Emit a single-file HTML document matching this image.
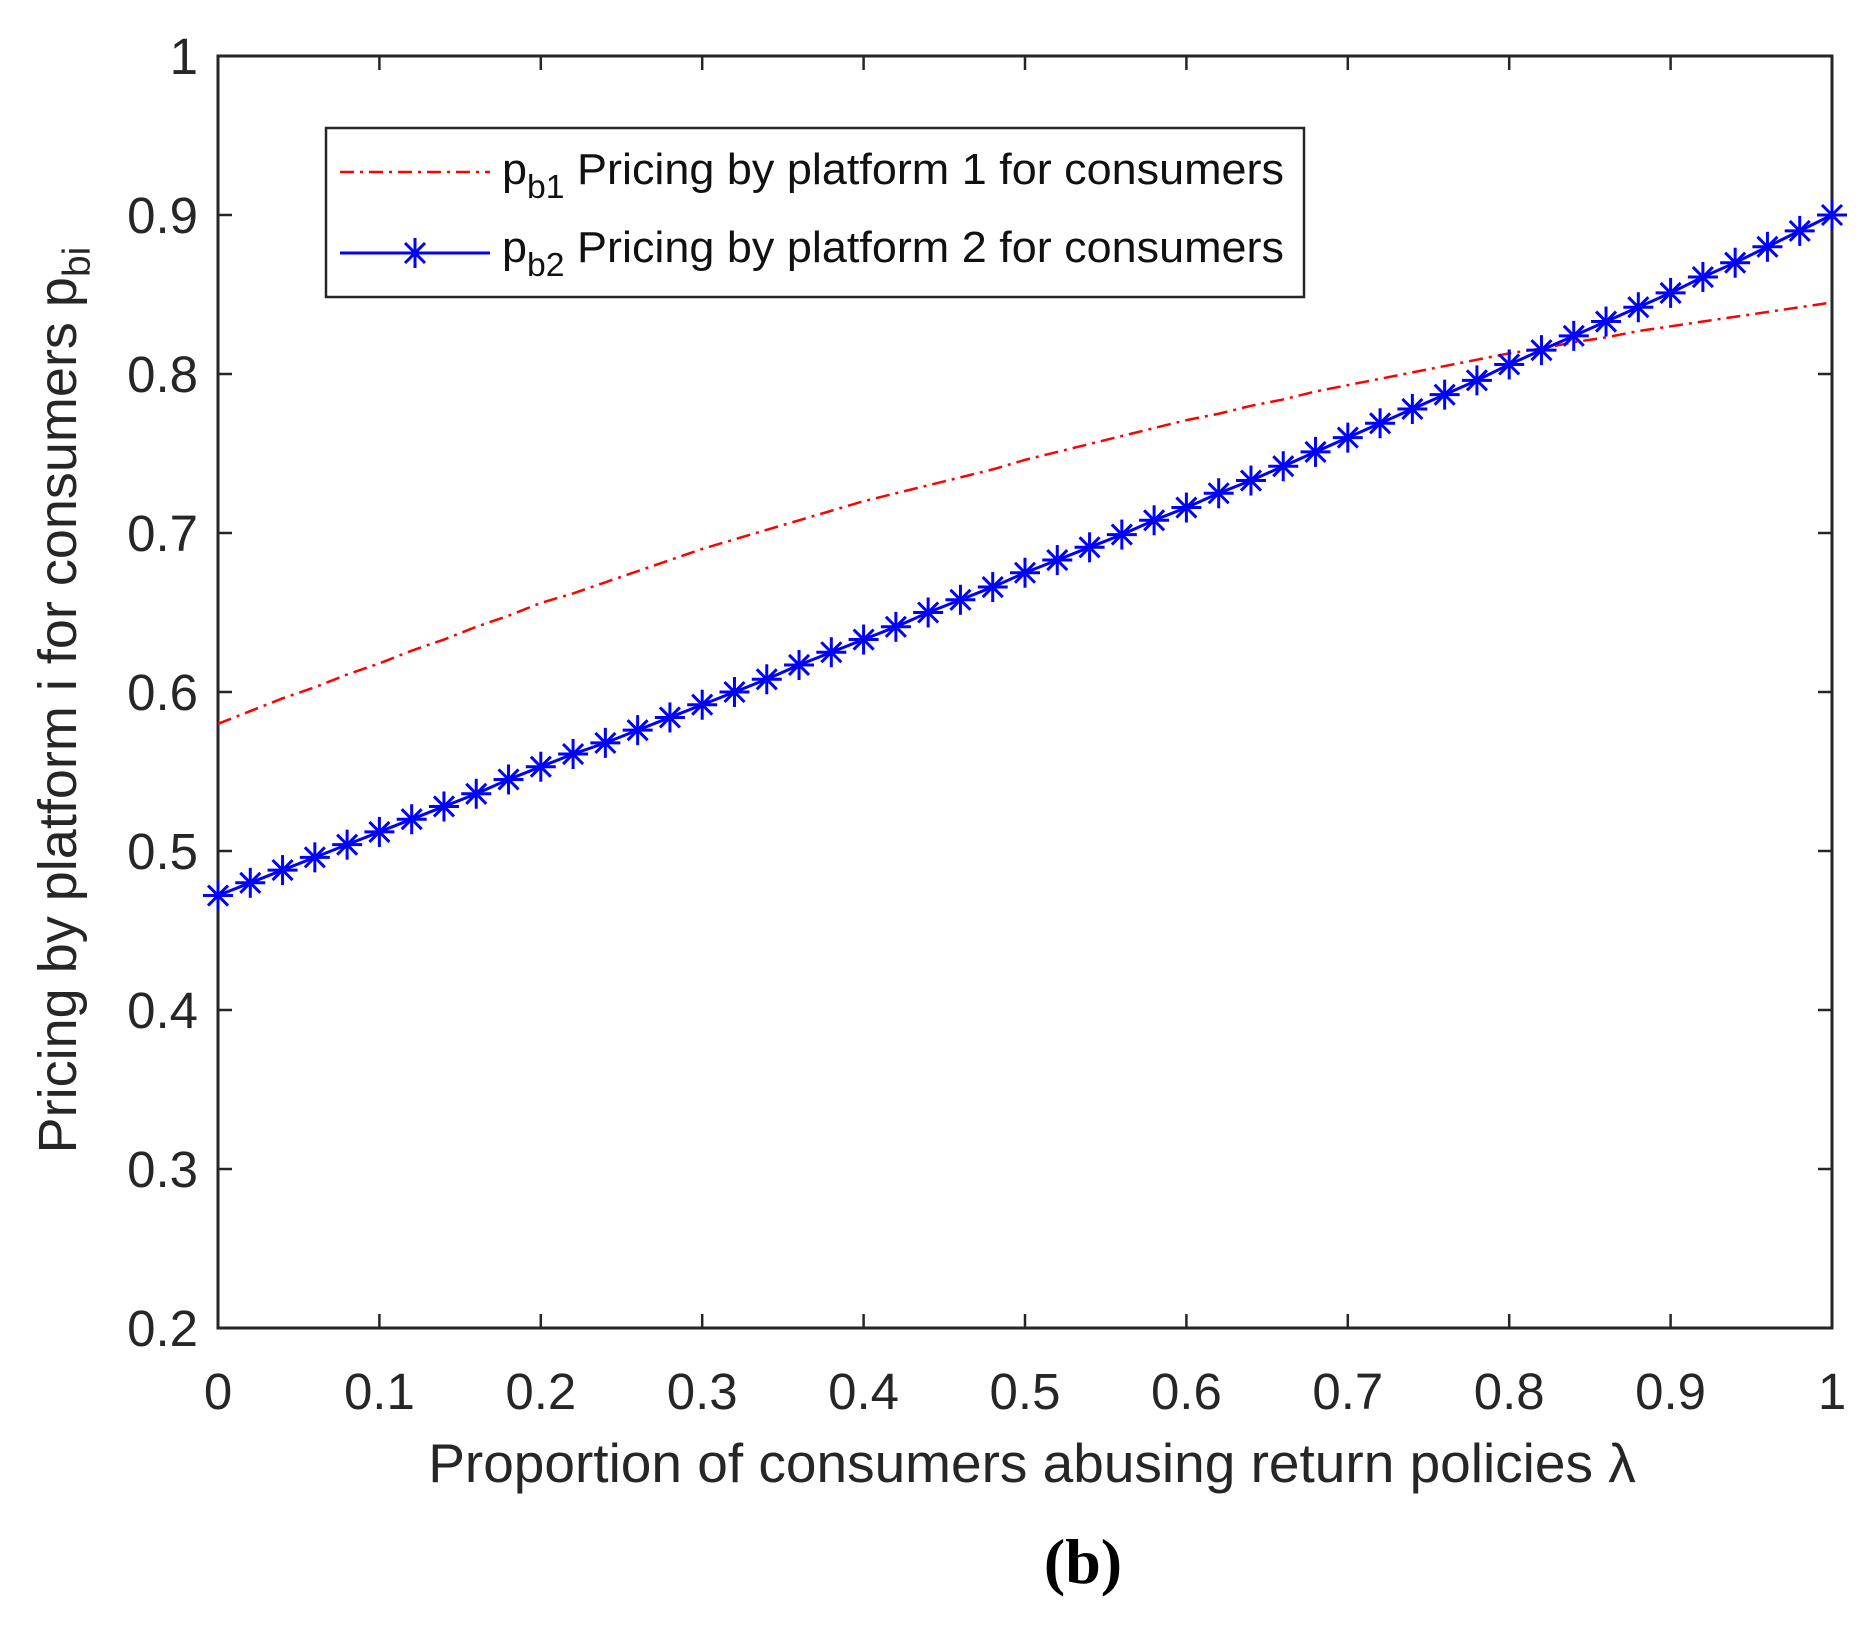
<!DOCTYPE html>
<html><head><meta charset="utf-8"><style>
html,body{margin:0;padding:0;background:#fff;}
svg{display:block;font-family:"Liberation Sans",sans-serif;}
</style></head><body>
<svg id="chart" width="1873" height="1630" viewBox="0 0 1873 1630"></svg>
<script>
const xValues = [0,0.02,0.04,0.06,0.08,0.1,0.12,0.14,0.16,0.18,0.2,0.22,0.24,0.26,0.28,0.3,0.32,0.34,0.36,0.38,0.4,0.42,0.44,0.46,0.48,0.5,0.52,0.54,0.56,0.58,0.6,0.62,0.64,0.66,0.68,0.7,0.72,0.74,0.76,0.78,0.8,0.82,0.84,0.86,0.88,0.9,0.92,0.94,0.96,0.98,1];
const pb1 = [0.580,0.588,0.596,0.603,0.611,0.618,0.626,0.633,0.641,0.648,0.656,0.662,0.669,0.676,0.683,0.690,0.696,0.702,0.708,0.714,0.720,0.725,0.730,0.735,0.740,0.746,0.751,0.756,0.761,0.766,0.771,0.775,0.780,0.784,0.789,0.793,0.797,0.801,0.805,0.809,0.813,0.816,0.820,0.823,0.827,0.830,0.833,0.836,0.839,0.842,0.845];
const pb2 = [0.472,0.480,0.488,0.496,0.504,0.512,0.520,0.528,0.536,0.545,0.553,0.561,0.568,0.576,0.584,0.592,0.600,0.608,0.617,0.625,0.633,0.641,0.650,0.658,0.666,0.675,0.683,0.691,0.699,0.708,0.716,0.725,0.733,0.742,0.751,0.760,0.769,0.778,0.787,0.796,0.806,0.815,0.824,0.833,0.842,0.851,0.861,0.870,0.880,0.890,0.900];
const xTicks = [0,0.1,0.2,0.3,0.4,0.5,0.6,0.7,0.8,0.9,1];
const xTickLabels = ["0","0.1","0.2","0.3","0.4","0.5","0.6","0.7","0.8","0.9","1"];
const yTicks = [0.2,0.3,0.4,0.5,0.6,0.7,0.8,0.9,1];
const yTickLabels = ["0.2","0.3","0.4","0.5","0.6","0.7","0.8","0.9","1"];

const L=218,R=1832,T=56,B=1328;
const X=v=>L+(v-0)/(1-0)*(R-L);
const Y=v=>B-(v-0.2)/(1-0.2)*(B-T);
const svg=document.getElementById('chart');
const NS='http://www.w3.org/2000/svg';
function mk(tag,attrs,parent){const e=document.createElementNS(NS,tag);for(const k in attrs)e.setAttribute(k,attrs[k]);(parent||svg).appendChild(e);return e;}

const box=mk('rect',{x:L,y:T,width:R-L,height:B-T,fill:'none',stroke:'#262626','stroke-width':3});



xTicks.forEach((v,i)=>{
  const t1=mk('line',{x1:X(v),x2:X(v),y1:B,y2:B-14,stroke:'#262626','stroke-width':2.5});
  
  
  const t2=mk('line',{x1:X(v),x2:X(v),y1:T,y2:T+14,stroke:'#262626','stroke-width':2.5});
  
  
  const tx=mk('text',{x:X(v),y:1409,'text-anchor':'middle','font-size':51,fill:'#262626'});
  tx.textContent=xTickLabels[i];
  
  
});
yTicks.forEach((v,i)=>{
  const t1=mk('line',{x1:L,x2:L+14,y1:Y(v),y2:Y(v),stroke:'#262626','stroke-width':2.5});
  
  
  const t2=mk('line',{x1:R,x2:R-14,y1:Y(v),y2:Y(v),stroke:'#262626','stroke-width':2.5});
  
  
  const tx=mk('text',{x:198,y:Y(v)+18,'text-anchor':'end','font-size':51,fill:'#262626'});
  tx.textContent=yTickLabels[i];
  
  
});

const p1=mk('polyline',{points:xValues.map((x,i)=>X(x)+','+Y(pb1[i])).join(' '),fill:'none',stroke:'#ff0000','stroke-width':2.5,'stroke-dasharray':'14 6 3 6'});


const p2=mk('polyline',{points:xValues.map((x,i)=>X(x)+','+Y(pb2[i])).join(' '),fill:'none',stroke:'#0000ff','stroke-width':3});


function star(cx,cy,name){
  const g=mk('g',{stroke:'#0000ff','stroke-width':3});
  
  
  mk('line',{x1:cx,x2:cx,y1:cy-15,y2:cy+15},g);
  mk('line',{x1:cx-15,x2:cx+15,y1:cy,y2:cy},g);
  mk('line',{x1:cx-10,x2:cx+10,y1:cy-10,y2:cy+10},g);
  mk('line',{x1:cx-10,x2:cx+10,y1:cy+10,y2:cy-10},g);
}
xValues.forEach((x,i)=>star(X(x),Y(pb2[i]),'pb2-marker'));

const lg=mk('g',{});


mk('rect',{x:326,y:128,width:978,height:169,fill:'#fff',stroke:'#262626','stroke-width':2.5},lg);
const l1=mk('line',{x1:340,x2:490,y1:172,y2:172,stroke:'#ff0000','stroke-width':2.5,'stroke-dasharray':'14 6 3 6'},lg);


const l2=mk('line',{x1:340,x2:490,y1:253,y2:253,stroke:'#0000ff','stroke-width':3},lg);


star(415,253,'legend-pb2-marker');
</script>
<svg width="1873" height="1630" style="position:absolute;left:0;top:0;font-family:'Liberation Sans',sans-serif">
<text x="502" y="184" font-size="44" fill="#111" textLength="782" lengthAdjust="spacingAndGlyphs">p<tspan font-size="33" dy="14">b1</tspan><tspan dy="-14"> Pricing by platform 1 for consumers</tspan></text>
<text x="502" y="262" font-size="44" fill="#111" textLength="782" lengthAdjust="spacingAndGlyphs">p<tspan font-size="33" dy="14">b2</tspan><tspan dy="-14"> Pricing by platform 2 for consumers</tspan></text>
<text x="1032" y="1482" font-size="55" text-anchor="middle" fill="#262626">Proportion of consumers abusing return policies λ</text>
<text transform="translate(76,700) rotate(-90)" font-size="54" text-anchor="middle" fill="#262626">Pricing by platform i for consumers p<tspan font-size="39" dy="14">bi</tspan></text>
<text x="1083" y="1583" font-size="64" font-weight="bold" text-anchor="middle" font-family="Liberation Serif,serif" fill="#000">(b)</text>
</svg>
</body></html>
